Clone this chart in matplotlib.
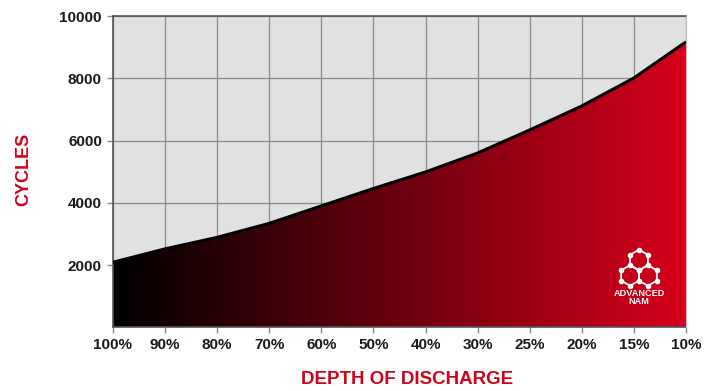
import matplotlib
matplotlib.use("Agg")
import matplotlib.pyplot as plt
import numpy as np
from matplotlib.colors import LinearSegmentedColormap
from matplotlib.patches import Polygon, RegularPolygon

plt.rcParams['font.family'] = ['Liberation Sans', 'DejaVu Sans']

# data
dod_labels = ["100%", "90%", "80%", "70%", "60%", "50%", "40%",
              "30%", "25%", "20%", "15%", "10%"]
cycles = [2090, 2520, 2890, 3340, 3900, 4460, 4990,
          5600, 6340, 7110, 8010, 9170]
y_ticks = [2000, 4000, 6000, 8000, 10000]

RED = "#d0021b"

fig = plt.figure(figsize=(7.16, 3.91), dpi=100)
ax = fig.add_axes([113 / 716, 1 - 327.3 / 391, 573 / 716, 311.3 / 391])
ax.set_facecolor("#e1e1e1")

x = np.arange(len(cycles))
ax.set_xlim(x[0], x[-1])
ax.set_ylim(0, 10000)

# gradient fill under the curve, black -> red
cmap = LinearSegmentedColormap.from_list("dod", ["#000000", "#d6001c"])
grad = np.linspace(0, 1, 256).reshape(1, -1)
img = ax.imshow(grad, cmap=cmap, aspect="auto",
                extent=[x[0], x[-1], 0, 10000], zorder=2)
verts = [(x[0], 0)] + list(zip(x, cycles)) + [(x[-1], 0)]
clip = Polygon(verts, closed=True, transform=ax.transData, facecolor="none",
               edgecolor="none")
ax.add_patch(clip)
img.set_clip_path(clip)

ax.plot(x, cycles, color="black", linewidth=2.2, zorder=3,
        solid_capstyle="butt", solid_joinstyle="round")

ax.set_xticks(x)
ax.set_xticklabels(dod_labels)
ax.set_yticks(y_ticks)
ax.grid(True, color="#8a8a8a", linewidth=0.9, zorder=1)
ax.set_axisbelow(True)
ax.tick_params(axis="both", colors="#8a8a8a", length=4, width=1,
               labelcolor="#1a1a1a", labelsize=11)
ax.tick_params(axis="x", pad=4)
ax.tick_params(axis="y", pad=4)
for lbl in ax.get_xticklabels() + ax.get_yticklabels():
    lbl.set_fontweight("bold")
for side in ["top", "left", "bottom"]:
    ax.spines[side].set_color("#555555")
    ax.spines[side].set_linewidth(1.2)
ax.spines["right"].set_color("#bbbbbb")
ax.spines["right"].set_zorder(4)

fig.text(24 / 716, 1 - 169 / 391, "CYCLES", color=RED, fontsize=13,
         fontweight="bold", rotation=90, ha="center", va="center")
fig.text(407 / 716, 1 - 380 / 391, "DEPTH OF DISCHARGE", color=RED,
         fontsize=13.5, fontweight="bold", ha="center", va="center")

# small white "ADVANCED NAM" logo, drawn in pixel coordinates
lx0, lx1, ly0, ly1 = 605, 675, 240, 310
lax = fig.add_axes([lx0 / 716, 1 - ly1 / 391, (lx1 - lx0) / 716,
                    (ly1 - ly0) / 391])
lax.set_xlim(lx0, lx1)
lax.set_ylim(ly1, ly0)
lax.axis("off")
r = 10.3
w = r * np.sqrt(3) / 2
centers = [(639, 260), (639 - w, 275.5), (639 + w, 275.5)]
nodes = set()
for cx, cy in centers:
    lax.add_patch(RegularPolygon((cx, cy), 6, radius=r, orientation=0,
                                 facecolor="none", edgecolor="white",
                                 linewidth=1.3))
    for k in range(6):
        a = np.pi / 2 + k * np.pi / 3
        nodes.add((round(cx + r * np.cos(a), 1), round(cy - r * np.sin(a), 1)))
nx, ny = zip(*nodes)
lax.scatter(nx, ny, s=9, color="white", zorder=3)
lax.text(639, 293, "ADVANCED", color="white", fontsize=6.6,
         fontweight="bold", ha="center", va="center")
lax.text(639, 302, "NAM", color="white", fontsize=6.6,
         fontweight="bold", ha="center", va="center")

fig.savefig("out.png", dpi=100)
